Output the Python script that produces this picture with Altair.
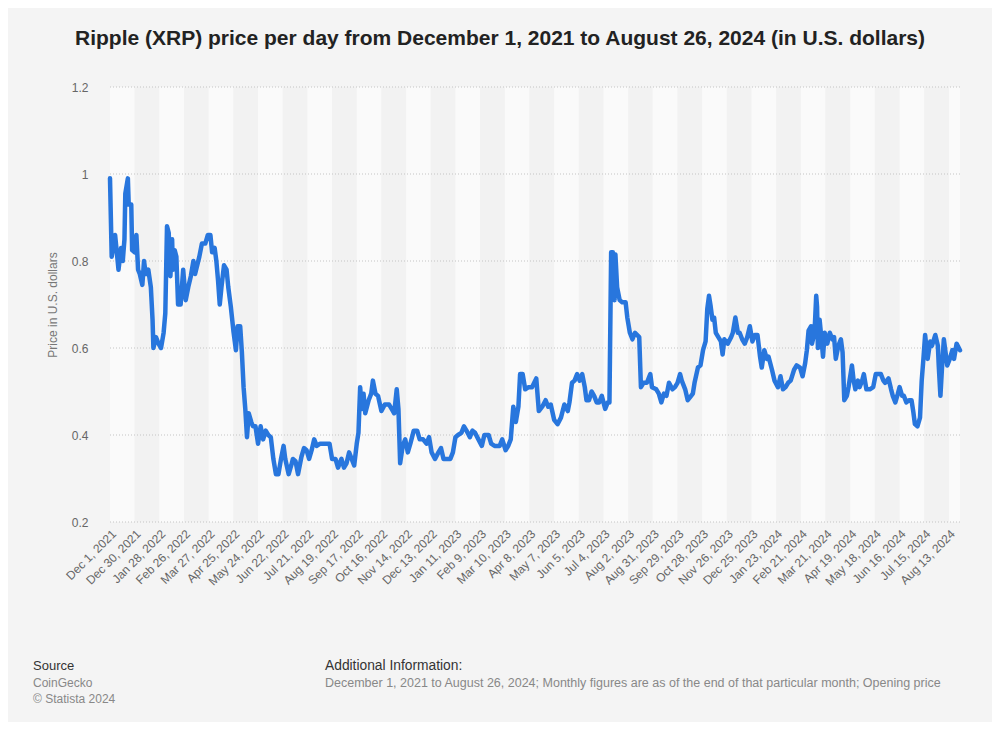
import altair as alt
import pandas as pd

# ---- data (day offset from Dec 1, 2021 -> opening price USD)
day_offsets = [
    0, 2, 6, 9, 10, 13, 15, 17, 18, 21, 22, 25, 26, 29, 31, 33, 35, 38, 40, 42, 45, 48, 50, 51, 54, 57, 60, 63, 65,
    67, 69, 71, 73, 74, 76, 78, 80, 83, 86, 89, 92, 95, 98, 100, 105, 108, 112, 115, 118, 120, 123, 125, 127, 129,
    131, 134, 137, 139, 142, 145, 148, 150, 153, 155, 157, 159, 161, 163,
    166, 168, 171, 174, 177, 180, 183, 186, 189, 192, 195, 198, 201, 204, 206, 210, 213, 215, 218, 221, 225, 228,
    231, 234, 237, 240, 243, 247, 253, 258, 261, 265, 268, 272, 275, 278, 281, 284, 287, 290, 292, 294, 296, 298,
    300, 304, 307, 309, 312, 315, 319, 323, 328,
    331, 334, 337, 339, 341, 344, 347, 350, 353, 357, 361, 364, 368, 372, 375, 378, 382, 386, 389, 392, 396, 400,
    403, 406, 409, 413, 416, 419, 423, 426, 429, 433, 437, 440, 445, 448, 452, 458, 461, 465, 468, 471, 474, 477,
    480, 482, 485, 488, 492,
    496, 501, 504, 508, 512, 515, 518, 522, 526, 530, 534, 538, 540, 543, 546, 549, 552, 555, 558, 560, 563, 566,
    569, 572, 575, 578, 582, 585, 587, 589, 590, 591, 593, 594, 596, 599, 602, 606, 608, 611, 614, 617, 622, 624,
    627, 631, 635, 637, 642, 645, 648, 651, 654, 657,
    661, 664, 667, 670, 672, 676, 679, 683, 685, 687, 691, 694, 697, 700, 702, 704, 706, 708, 710, 712, 715, 718,
    720, 722, 726, 730, 732, 735, 738, 740, 743, 746, 749, 752, 755, 758, 761, 764, 766, 769, 772, 774, 778, 781,
    785, 788, 791, 794, 797, 800, 804, 807, 811, 814, 817, 819, 821,
    824, 825, 828, 830, 831, 832, 834, 836, 838, 840, 843, 846, 849, 851, 853, 856, 859, 861, 863, 866, 868, 872,
    874, 876, 879, 881, 884, 886, 889, 893, 897, 900, 903, 906, 909, 911, 915, 918, 920, 923, 926, 928, 931, 933,
    936, 939, 942, 944, 946, 949, 952, 954, 956, 958, 961, 964, 966, 970, 973, 974, 976, 978, 980, 982, 984, 987,
    990, 992, 995, 999,
]
prices = [
    0.99, 0.81, 0.86, 0.80, 0.78, 0.83, 0.80, 0.85, 0.955, 0.99, 0.93, 0.93, 0.825, 0.82, 0.86, 0.78, 0.77, 0.745,
    0.80, 0.77, 0.78, 0.74, 0.665, 0.60, 0.625, 0.61, 0.60, 0.635, 0.68,
    0.88, 0.865, 0.765, 0.85, 0.78, 0.825, 0.81, 0.70, 0.70, 0.78, 0.71, 0.74, 0.765, 0.80, 0.77, 0.81, 0.84, 0.84,
    0.86, 0.86, 0.82, 0.83, 0.80, 0.755, 0.70,
    0.74, 0.79, 0.78, 0.74, 0.695, 0.64, 0.595, 0.65, 0.65, 0.59, 0.51, 0.46, 0.395, 0.45,
    0.43, 0.42, 0.42, 0.38, 0.42, 0.39, 0.41, 0.40, 0.395, 0.345, 0.31, 0.31, 0.345, 0.375, 0.345, 0.31, 0.33, 0.345,
    0.34, 0.31, 0.35, 0.37,
    0.365, 0.345, 0.365, 0.39, 0.375, 0.38, 0.38, 0.38, 0.345, 0.345, 0.325, 0.345, 0.325, 0.335, 0.36, 0.345, 0.33,
    0.38, 0.405, 0.51, 0.46, 0.495,
    0.45, 0.48, 0.495, 0.525, 0.495, 0.49, 0.455, 0.47, 0.47,
    0.46, 0.45, 0.505, 0.46, 0.335, 0.375, 0.39, 0.36, 0.38, 0.41, 0.41, 0.39, 0.39, 0.38, 0.395, 0.36, 0.345, 0.36,
    0.37, 0.345, 0.345, 0.345,
    0.36, 0.395, 0.40, 0.405, 0.42, 0.41, 0.395, 0.41, 0.405, 0.39, 0.375, 0.40, 0.40, 0.38, 0.375, 0.375, 0.39,
    0.365, 0.375, 0.39, 0.465, 0.43,
    0.465, 0.54, 0.54, 0.505, 0.51,
    0.51, 0.53, 0.455, 0.465, 0.48, 0.465, 0.47, 0.435, 0.425, 0.44, 0.47, 0.455, 0.475, 0.52, 0.525, 0.54, 0.525,
    0.54, 0.51, 0.48, 0.48, 0.50,
    0.49, 0.475, 0.475, 0.49, 0.46, 0.475, 0.475, 0.82, 0.74, 0.82, 0.71, 0.815, 0.74, 0.71, 0.705, 0.705, 0.67,
    0.635, 0.62, 0.635, 0.625, 0.51,
    0.52, 0.52, 0.54, 0.51, 0.505, 0.495, 0.475, 0.495, 0.49, 0.52,
    0.505, 0.51, 0.52, 0.54, 0.525, 0.505, 0.48, 0.49, 0.495, 0.52, 0.555, 0.56, 0.595, 0.615, 0.69, 0.72, 0.695,
    0.665, 0.67, 0.635, 0.625, 0.615,
    0.585, 0.62, 0.61, 0.625, 0.635, 0.67, 0.635, 0.635, 0.62, 0.61, 0.625, 0.65, 0.615, 0.63, 0.63, 0.58, 0.555,
    0.595, 0.575, 0.58, 0.55, 0.525,
    0.51, 0.535, 0.505, 0.51, 0.52, 0.525, 0.55, 0.56, 0.555, 0.535, 0.565, 0.595, 0.64,
    0.65, 0.61, 0.635, 0.72, 0.695, 0.60, 0.665, 0.625, 0.58, 0.635, 0.61, 0.635, 0.62, 0.625, 0.575, 0.605, 0.62,
    0.59, 0.48, 0.49, 0.51, 0.56,
    0.525, 0.505, 0.525, 0.51, 0.525, 0.54, 0.505, 0.505, 0.51, 0.54, 0.54, 0.54, 0.525, 0.52, 0.53, 0.505, 0.49,
    0.475, 0.495, 0.51, 0.49, 0.49,
    0.475, 0.48, 0.48, 0.455, 0.425, 0.42, 0.44, 0.525, 0.575, 0.63, 0.575, 0.615, 0.605, 0.63, 0.605, 0.56, 0.49,
    0.56, 0.62, 0.59, 0.56, 0.575,
    0.595, 0.575, 0.61, 0.595,
]
y_ticks = [0.2, 0.4, 0.6, 0.8, 1.0, 1.2]
tick_step_days = 29
first_day = "2021-12-01"
last_day = "2024-08-26"

title_text = "Ripple (XRP) price per day from December 1, 2021 to August 26, 2024 (in U.S. dollars)"
y_title = "Price in U.S. dollars"
source_lines = ["CoinGecko", "© Statista 2024"]
info_line = ("December 1, 2021 to August 26, 2024; Monthly figures are as of the end of that "
             "particular month; Opening price")

# ---- tables built from the arrays
start = pd.Timestamp(first_day)
end = pd.Timestamp(last_day)
df = pd.DataFrame({
    "date": [(start + pd.Timedelta(days=d)).strftime("%Y-%m-%d") for d in day_offsets],
    "price": prices,
})
ticks = [start + pd.Timedelta(days=d) for d in range(0, (end - start).days + 1, tick_step_days)]
to_ms = lambda t: int(t.value // 10**6)
bands = pd.DataFrame({
    "b0": [t.strftime("%Y-%m-%d") for t in ticks],
    "b1": [min(t + pd.Timedelta(days=tick_step_days), end).strftime("%Y-%m-%d") for t in ticks],
    "shade": ["a" if i % 2 == 0 else "b" for i in range(len(ticks))],
})
grid = pd.DataFrame({"v": y_ticks})

FONT = "Liberation Sans"
x_scale = alt.Scale(type="utc", domain=[to_ms(start), to_ms(end)], nice=False)
y_scale = alt.Scale(domain=[0.2, 1.2], nice=False, zero=False)
x_axis = alt.Axis(values=[to_ms(t) for t in ticks], format="%b %-d, %Y", labelAngle=-45,
                  labelFontSize=12, labelColor="#666666", labelFont=FONT, ticks=False,
                  domain=False, grid=False, labelPadding=6, labelOverlap=False, labelBound=False,
                  labelFlush=False)
y_axis = alt.Axis(values=y_ticks, format="~g", labelFontSize=12, labelColor="#666666", labelFont=FONT,
                  ticks=False, domain=False, grid=False,
                  labelPadding=22, titleFont=FONT, titleFontSize=12, titleFontWeight="normal",
                  titleColor="#777777", titlePadding=12)

band_layer = alt.Chart(bands).mark_rect().encode(
    x=alt.X("b0:T", scale=x_scale, title=None, axis=x_axis),
    x2="b1:T",
    y=alt.value(0),
    y2=alt.value(435),
    color=alt.Color("shade:N", scale=alt.Scale(domain=["a", "b"], range=["#fafafa", "#f2f2f2"]), legend=None),
)

grid_layer = alt.Chart(grid).mark_rule(color="#c4c4c4", strokeDash=[1, 2], strokeWidth=1).encode(
    y=alt.Y("v:Q", scale=y_scale, title=y_title, axis=y_axis),
)

line_layer = alt.Chart(df).mark_line(color="#2876dd", strokeWidth=4.5, strokeJoin="round",
                                     strokeCap="round").encode(
    x=alt.X("date:T", scale=x_scale, title=None, axis=x_axis),
    y=alt.Y("price:Q", scale=y_scale, title=y_title, axis=y_axis),
)

one = pd.DataFrame({"k": [0]})
def txt(s, x, y, color, size=12, weight="normal"):
    return alt.Chart(one).mark_text(align="left", baseline="alphabetic", font=FONT, fontSize=size,
                                    fontWeight=weight, color=color).encode(
        x=alt.value(x), y=alt.value(y), text=alt.value(s))

footer = [
    txt("Source", -77, 583, "#333333", 13),
    txt(source_lines[0], -77, 600, "#888888"),
    txt(source_lines[1], -77, 616, "#888888"),
    txt("Additional Information:", 215, 583, "#333333", 13.8),
    txt(info_line, 215, 600, "#888888", 12.5),
]

chart = alt.layer(band_layer, grid_layer, line_layer, *footer).properties(
    width=850, height=435,
    title=alt.Title(title_text, font=FONT, fontSize=21, fontWeight="bold", color="#222222",
                    anchor="middle", dx=-35, offset=32),
    autosize=alt.AutoSizeParams(type="none"),
    padding={"left": 102, "top": 79, "right": 32, "bottom": 200},
    background="#f4f4f4",
).configure_view(stroke=None)

chart.save("out.html", embed_options={"renderer": "svg", "actions": False})
